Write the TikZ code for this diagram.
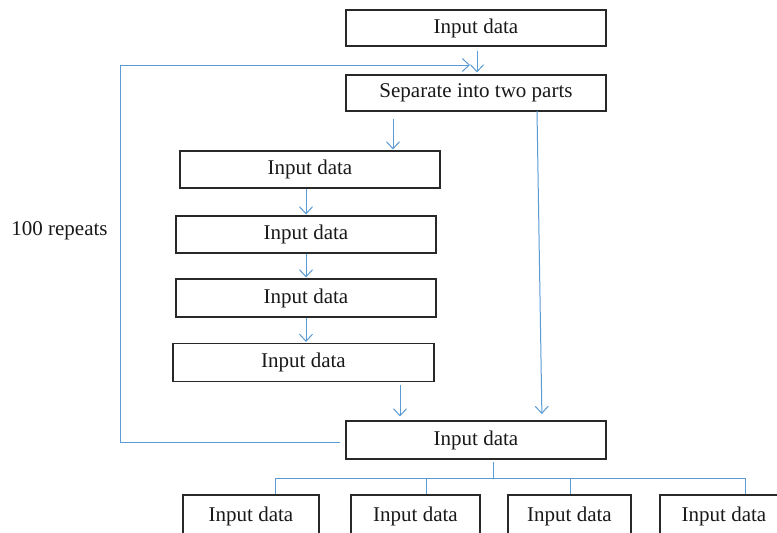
\documentclass[tikz,border=0pt]{standalone}
\usepackage{fontspec}
\setmainfont{Liberation Serif}
\usetikzlibrary{arrows.meta,calc}
\definecolor{lineblue}{RGB}{91,155,213}
\definecolor{boxgray}{RGB}{40,40,40}
\tikzset{
  box/.style={draw=boxgray, line width=1.1pt, minimum height=37pt, inner sep=0pt,
    font=\fontsize{21}{25}\selectfont, text=black!90},
  conn/.style={draw=lineblue, line width=1pt},
  arr/.style={conn, -{Straight Barb[length=7pt,width=13pt,line width=1pt]}},
}
\begin{document}
\begin{tikzpicture}[x=1pt,y=-1pt]
\clip (0,0) rectangle (777,533);
\fill[white] (0,0) rectangle (777,533);
% nodes
\node[box, minimum width=260pt, minimum height=36pt] (in1) at (476,28) {Input data};
\node[box, minimum width=260pt, minimum height=36pt] (sep) at (476,93) {Separate into two parts};
\node[box, minimum width=260pt] (a) at (310,169.5) {Input data};
\node[box, minimum width=260pt] (b) at (306,234.5) {Input data};
\node[box, minimum width=260pt, minimum height=38pt] (c) at (306,298) {Input data};
\node[box, minimum width=261pt, minimum height=38pt] (d) at (303.5,362.5) {Input data};
\node[box, minimum width=260pt, minimum height=38pt] (mid) at (476,440) {Input data};
\node[box, minimum width=136pt, minimum height=43pt] (o1) at (251,516.5) {\raisebox{3pt}{Input data}};
\node[box, minimum width=129pt, minimum height=43pt] (o2) at (415.5,516.5) {\raisebox{3pt}{Input data}};
\node[box, minimum width=123pt, minimum height=43pt] (o3) at (569.5,516.5) {\raisebox{3pt}{Input data}};
\node[box, minimum width=128pt, minimum height=43pt] (o4) at (724,516.5) {\raisebox{3pt}{Input data}};
\node[font=\fontsize{21}{25}\selectfont, text=black!90, inner sep=0pt] (rep) at (59.5,231) {100 repeats};
% coordinates
\coordinate (lc) at (120,65);
\coordinate (lt) at (470,65);
\coordinate (s1) at (393,119);
\coordinate (d1) at (400,385);
\coordinate (s2) at (537,111);
\coordinate (m2) at (542,421);
\coordinate (t1) at (493,462);
\coordinate (t2) at (493,478);
\coordinate (bl) at (275,478);
\coordinate (bm1) at (426,478);
\coordinate (bm2) at (570,478);
\coordinate (br) at (745,478);
% connectors
\draw[arr, shorten <=4pt, shorten >=2pt] ([xshift=1pt]in1.south) -- ([xshift=1pt]sep.north);
\draw[arr, shorten <=5pt] ([yshift=-2pt]mid.west) -| (lc) -- (lt);
\draw[arr, shorten >=1pt] (s1) -- (s1 |- a.north);
\draw[arr, shorten >=1pt] (b.north |- a.south) -- (b.north);
\draw[arr, shorten >=1pt] (c.north |- b.south) -- (c.north);
\draw[arr, shorten >=1pt] (c.south) -- (c.south |- d.north);
\draw[arr, shorten >=4pt] (d1) -- (d1 |- mid.north);
\draw[arr, shorten >=7pt] (s2) -- (m2);
\draw[conn] (t1) -- (t2);
\draw[conn] (bl) -- (br);
\draw[conn] (bl) -- (bl |- o1.north);
\draw[conn] (bm1) -- (bm1 |- o2.north);
\draw[conn] (bm2) -- (bm2 |- o3.north);
\draw[conn] (br) -- (br |- o4.north);
\end{tikzpicture}
\end{document}
